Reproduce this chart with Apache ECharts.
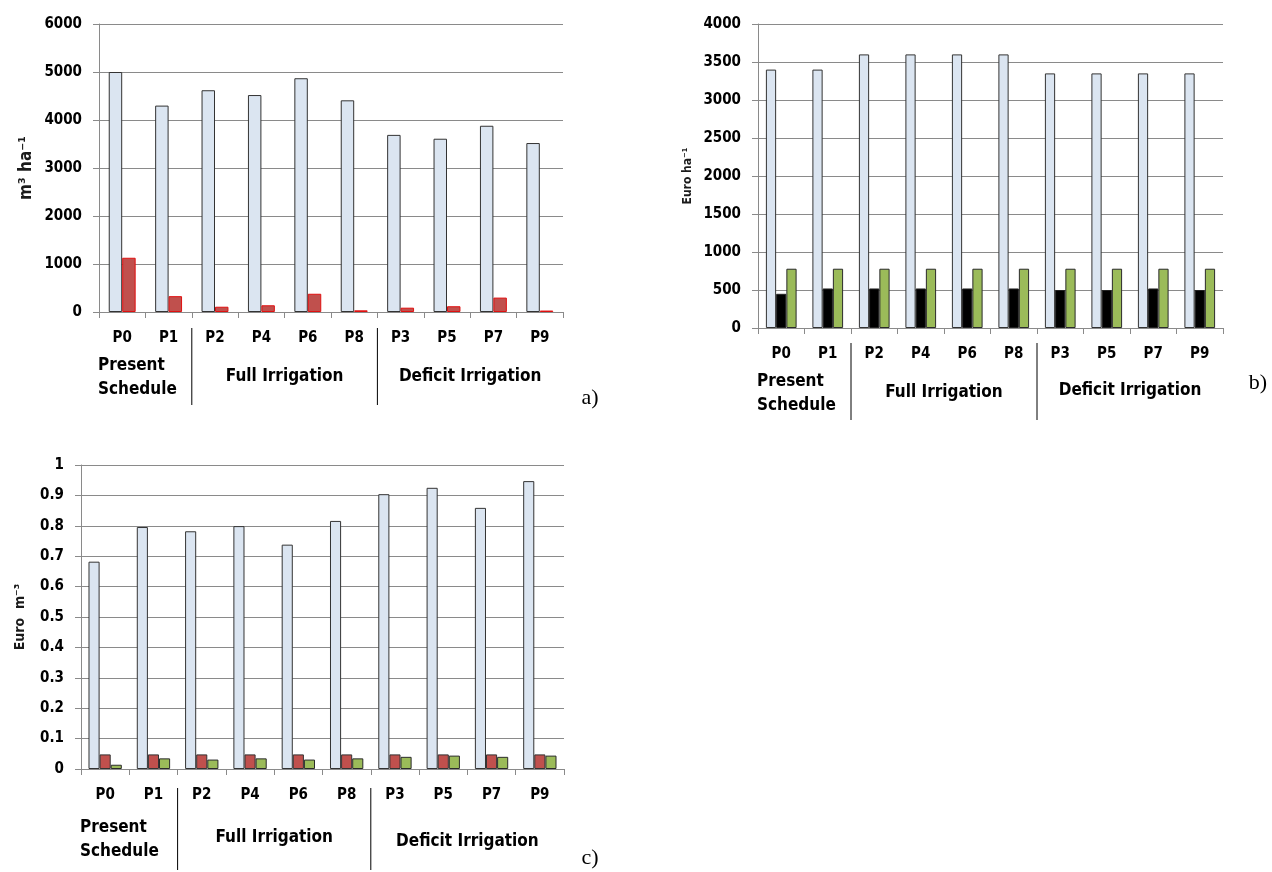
<!DOCTYPE html>
<html>
<head>
<meta charset="utf-8">
<script src="https://cdn.jsdelivr.net/npm/echarts@6/dist/echarts.min.js"></script>
<style>
  html, body { margin: 0; padding: 0; background: #fff; }
  #chart { width: 1272px; height: 872px; }
</style>
</head>
<body>
<div id="chart"></div>
<script>
const categories = ['P0', 'P1', 'P2', 'P4', 'P6', 'P8', 'P3', 'P5', 'P7', 'P9'];
const groupLabels = ['Present\nSchedule', 'Full Irrigation', 'Deficit Irrigation'];
const groupStart = [0, 2, 6];
const groupEnd = [2, 6, 10];

// a) m3 ha-1
const aBlue = [5000, 4300, 4620, 4520, 4870, 4410, 3690, 3610, 3880, 3520];
const aRed = [1130, 330, 110, 140, 380, 35, 90, 120, 300, 30];
// b) Euro ha-1
const bBlue = [3400, 3400, 3600, 3600, 3600, 3600, 3350, 3350, 3350, 3350];
const bBlack = [450, 520, 520, 520, 520, 520, 500, 500, 520, 500];
const bGreen = [780, 780, 780, 780, 780, 780, 780, 780, 780, 780];
// c) Euro m-3
const cBlue = [0.682, 0.796, 0.782, 0.799, 0.738, 0.816, 0.904, 0.925, 0.859, 0.947];
const cRed = [0.048, 0.048, 0.048, 0.048, 0.048, 0.048, 0.048, 0.048, 0.048, 0.048];
const cGreen = [0.014, 0.035, 0.031, 0.035, 0.031, 0.035, 0.040, 0.044, 0.040, 0.044];

const FONT = '"DejaVu Sans Condensed", "DejaVu Sans", sans-serif';
const GRID_COLOR = '#8a8a8a';
const LIGHT = '#dbe5f1';
const RED = '#c0504d';
const GREEN = '#9bbb59';

const chart = echarts.init(document.getElementById('chart'), null, { renderer: 'canvas' });

function xAxisFor(idx) {
  return {
    type: 'category',
    gridIndex: idx,
    data: categories,
    axisLine: { lineStyle: { color: GRID_COLOR, width: 1 } },
    axisTick: { show: true, length: 6, lineStyle: { color: GRID_COLOR } },
    axisLabel: { color: '#000', fontFamily: FONT, fontWeight: 'bold', fontSize: 15, margin: 19 }
  };
}

function yAxisFor(idx, max, interval, name, nameSize, nameGap) {
  return {
    type: 'value',
    gridIndex: idx,
    min: 0,
    max: max,
    interval: interval,
    name: name,
    nameLocation: 'middle',
    nameRotate: 90,
    nameGap: nameGap,
    nameTextStyle: { color: '#1a1a1a', fontFamily: FONT, fontWeight: 'bold', fontSize: nameSize },
    axisLine: { show: true, lineStyle: { color: GRID_COLOR, width: 1 } },
    axisTick: { show: true, length: 6, lineStyle: { color: GRID_COLOR } },
    splitLine: { lineStyle: { color: GRID_COLOR, width: 1 } },
    axisLabel: {
      color: '#000', fontFamily: FONT, fontWeight: 'bold', fontSize: 15, margin: 17,
      formatter: function (v) { return String(Math.round(v * 100) / 100); }
    }
  };
}

function bar(name, idx, data, color, border, width) {
  return {
    name: name,
    type: 'bar',
    xAxisIndex: idx,
    yAxisIndex: idx,
    data: data,
    barWidth: width,
    barGap: '0%',
    itemStyle: { color: color, borderColor: border, borderWidth: 1 }
  };
}

const option = {
  animation: false,
  backgroundColor: '#fff',
  grid: [
    { left: 99, top: 24, width: 464, height: 288 },
    { left: 758, top: 24, width: 465, height: 304 },
    { left: 81, top: 465, width: 483, height: 304 }
  ],
  xAxis: [xAxisFor(0), xAxisFor(1), xAxisFor(2)],
  yAxis: [
    yAxisFor(0, 6000, 1000, 'm³ ha⁻¹', 17, 64),
    yAxisFor(1, 4000, 500, 'Euro ha⁻¹', 12, 64),
    yAxisFor(2, 1, 0.1, 'Euro  m⁻³', 14, 54)
  ],
  series: [
    bar('a1', 0, aBlue, LIGHT, '#333', '29%'),
    bar('a2', 0, aRed, RED, '#e01010', '29%'),
    bar('b1', 1, bBlue, LIGHT, '#333', '22%'),
    bar('b2', 1, bBlack, '#000', '#222', '22%'),
    bar('b3', 1, bGreen, GREEN, '#2a2a2a', '22%'),
    bar('c1', 2, cBlue, LIGHT, '#333', '23%'),
    bar('c2', 2, cRed, RED, '#333', '23%'),
    bar('c3', 2, cGreen, GREEN, '#2a2a2a', '23%')
  ]
};
chart.setOption(option);

// group labels under the category axis, placed from the axis' own scale
const panelLayout = [
  { textY: [66, 65, 65], sep: [16, 93], tag: 'a)' },
  { textY: [66, 65, 63], sep: [15, 92], tag: 'b)' },
  { textY: [71, 69, 73], sep: [19, 101], tag: 'c)' }
];
const tagPos = [[590, 398], [1258, 383], [590, 858]];

const graphics = [];
panelLayout.forEach(function (pl, i) {
  const p0 = chart.convertToPixel({ xAxisIndex: i, yAxisIndex: i }, [categories[0], 0]);
  const p1 = chart.convertToPixel({ xAxisIndex: i, yAxisIndex: i }, [categories[1], 0]);
  const band = p1[0] - p0[0];
  const left = p0[0] - band / 2;
  const base = p0[1];
  groupLabels.forEach(function (label, g) {
    const x0 = left + groupStart[g] * band;
    const x1 = left + groupEnd[g] * band;
    graphics.push({
      type: 'text',
      style: {
        text: label,
        x: g === 0 ? x0 - 1 : (x0 + x1) / 2,
        y: base + pl.textY[g],
        fill: '#000',
        font: 'bold 17px ' + FONT,
        align: g === 0 ? 'left' : 'center',
        verticalAlign: 'middle',
        lineHeight: 24
      }
    });
    if (g > 0) {
      graphics.push({
        type: 'line',
        shape: { x1: x0, y1: base + pl.sep[0], x2: x0, y2: base + pl.sep[1] },
        style: { stroke: '#000', lineWidth: 1 }
      });
    }
  });
  graphics.push({
    type: 'text',
    style: {
      text: pl.tag, x: tagPos[i][0], y: tagPos[i][1], fill: '#000',
      font: '22px "Liberation Serif", "DejaVu Serif", serif', align: 'center', verticalAlign: 'middle'
    }
  });
});
chart.setOption({ graphic: graphics });
</script>
</body>
</html>
